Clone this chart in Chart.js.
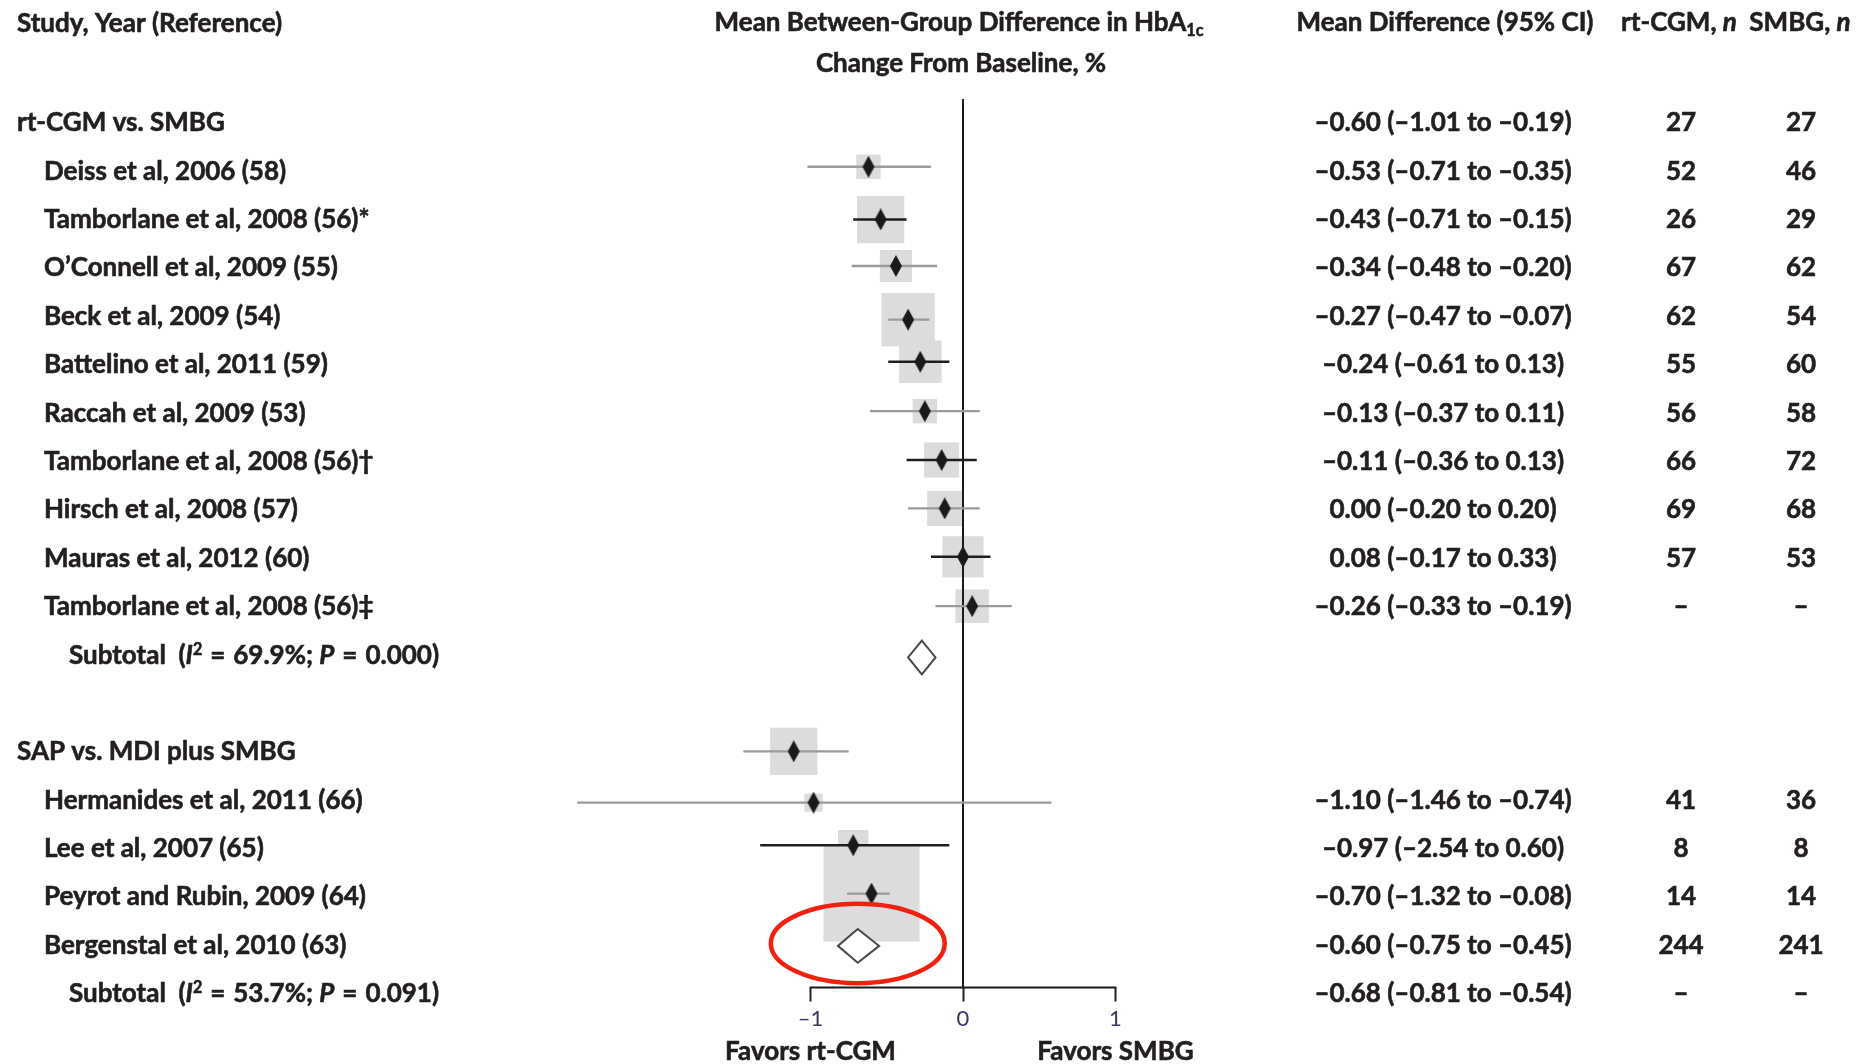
<!DOCTYPE html>
<html>
<head>
<meta charset="utf-8">
<script src="https://cdn.jsdelivr.net/npm/chart.js@4.4.1/dist/chart.umd.min.js"></script>
<style>
  html, body { margin: 0; padding: 0; background: #fff; }
  #wrap { width: 1869px; height: 1064px; }
</style>
</head>
<body>
<div id="wrap"><canvas id="forest" width="1869" height="1064"></canvas></div>
<script>
// ---- table rows (row 12 is the empty gap between the two groups) ----
var rowKind = ['group', 'study', 'study', 'study', 'study', 'study', 'study', 'study', 'study', 'study', 'study', 'subtotal',
               '', 'group', 'study', 'study', 'study', 'study', 'subtotal'];
var studyLabels = [
    'rt-CGM vs. SMBG',
    'Deiss et al, 2006 (58)',
    'Tamborlane et al, 2008 (56)*',
    'O\u2019Connell et al, 2009 (55)',
    'Beck et al, 2009 (54)',
    'Battelino et al, 2011 (59)',
    'Raccah et al, 2009 (53)',
    'Tamborlane et al, 2008 (56)\u2020',
    'Hirsch et al, 2008 (57)',
    'Mauras et al, 2012 (60)',
    'Tamborlane et al, 2008 (56)\u2021',
    'Subtotal',
    '',
    'SAP vs. MDI plus SMBG',
    'Hermanides et al, 2011 (66)',
    'Lee et al, 2007 (65)',
    'Peyrot and Rubin, 2009 (64)',
    'Bergenstal et al, 2010 (63)',
    'Subtotal'
];
var subtotalI2 = ['69.9%', '53.7%'];
var subtotalP = ['0.000', '0.091'];

var effectText = [
    '\u20130.60 (\u20131.01 to \u20130.19)',
    '\u20130.53 (\u20130.71 to \u20130.35)',
    '\u20130.43 (\u20130.71 to \u20130.15)',
    '\u20130.34 (\u20130.48 to \u20130.20)',
    '\u20130.27 (\u20130.47 to \u20130.07)',
    '\u20130.24 (\u20130.61 to 0.13)',
    '\u20130.13 (\u20130.37 to 0.11)',
    '\u20130.11 (\u20130.36 to 0.13)',
    '0.00 (\u20130.20 to 0.20)',
    '0.08 (\u20130.17 to 0.33)',
    '\u20130.26 (\u20130.33 to \u20130.19)',
    '', '', '',
    '\u20131.10 (\u20131.46 to \u20130.74)',
    '\u20130.97 (\u20132.54 to 0.60)',
    '\u20130.70 (\u20131.32 to \u20130.08)',
    '\u20130.60 (\u20130.75 to \u20130.45)',
    '\u20130.68 (\u20130.81 to \u20130.54)'
];
var nCgm  = ['27', '52', '26', '67', '62', '55', '56', '66', '69', '57', '\u2013', '', '', '', '41', '8', '14', '244', '\u2013'];
var nSmbg = ['27', '46', '29', '62', '54', '60', '58', '72', '68', '53', '\u2013', '', '', '', '36', '8', '14', '241', '\u2013'];

// ---- plotted marks, as they sit in the figure ----
var markRows   = [0.9, 1.99, 2.95, 4.06, 4.93, 5.95, 6.96, 7.96, 8.96, 9.98, 12.98, 14.04, 14.92, 15.92];
var markEst    = [-0.62, -0.54, -0.44, -0.36, -0.28, -0.25, -0.14, -0.12, 0.00, 0.06, -1.11, -0.98, -0.72, -0.60];
var markLow    = [-1.02, -0.72, -0.73, -0.49, -0.49, -0.61, -0.37, -0.36, -0.21, -0.18, -1.44, -2.53, -1.33, -0.76];
var markHigh   = [-0.21, -0.37, -0.17, -0.22, -0.09, 0.11, 0.09, 0.11, 0.18, 0.32, -0.75, 0.58, -0.09, -0.48];
var markWeight = [0.16, 0.31, 0.21, 0.35, 0.28, 0.16, 0.23, 0.23, 0.27, 0.22, 0.31, 0.12, 0.20, 0.63];

var subRows = [11.04, 17.0];
var subEst  = [-0.27, -0.69];
var subLow  = [-0.36, -0.82];
var subHigh = [-0.18, -0.55];

var xTicks = [-1, 0, 1];

// ---- look ----
var FAMILY = 'Lato';
var SIZE = 26;
var SQ = 1.0;
var INK = '#231f20';
var ciColors = ['#9b9b9b', '#1e1e1e', '#9b9b9b', '#9b9b9b', '#1e1e1e', '#9b9b9b', '#1e1e1e',
                '#9b9b9b', '#1e1e1e', '#9b9b9b', '#9b9b9b', '#9b9b9b', '#1e1e1e', '#9b9b9b'];

function setFont(ctx, size, italic) {
    ctx.font = (italic ? 'italic ' : '') + '700 ' + size + 'px ' + FAMILY;
}

function runsWidth(ctx, runs) {
    var w = 0;
    runs.forEach(function (r) {
        setFont(ctx, r.small ? SIZE * 0.62 : SIZE, r.italic);
        w += ctx.measureText(r.t).width * SQ;
    });
    return w;
}

function drawRuns(ctx, runs, x, y, align) {
    var w = runsWidth(ctx, runs);
    var cx = align === 'center' ? x - w / 2 : x;
    ctx.textAlign = 'left';
    ctx.textBaseline = 'alphabetic';
    ctx.fillStyle = INK;
    ctx.strokeStyle = INK;
    ctx.lineWidth = 0.6;
    runs.forEach(function (r) {
        setFont(ctx, r.small ? SIZE * 0.62 : SIZE, r.italic);
        var dy = r.sup ? -9 : (r.sub ? 5 : 0);
        ctx.save();
        ctx.translate(cx, y + dy);
        ctx.scale(SQ, 1);
        ctx.fillText(r.t, 0, 0);
        ctx.strokeText(r.t, 0, 0);
        ctx.restore();
        cx += ctx.measureText(r.t).width * SQ;
    });
}

function txt(ctx, s, x, y, align) {
    drawRuns(ctx, [{ t: s }], x, y, align);
}

// small tall diamond used for each study estimate
var pointImg = document.createElement('canvas');
pointImg.width = 14;
pointImg.height = 22;
(function () {
    var c = pointImg.getContext('2d');
    c.fillStyle = '#1a1a1a';
    c.beginPath();
    c.moveTo(7, 0);
    c.lineTo(13, 11);
    c.lineTo(7, 22);
    c.lineTo(1, 11);
    c.closePath();
    c.fill();
})();

var forestPlugin = {
    id: 'forest',
    beforeDatasetsDraw: function (chart) {
        var ctx = chart.ctx, xs = chart.scales.x, ys = chart.scales.y, area = chart.chartArea;
        ctx.save();
        // weight boxes
        ctx.fillStyle = '#dcdcde';
        markRows.forEach(function (r, i) {
            var x0 = xs.getPixelForValue(markEst[i] - markWeight[i] / 2);
            var x1 = xs.getPixelForValue(markEst[i] + markWeight[i] / 2);
            var side = x1 - x0;
            var yc = ys.getPixelForValue(r);
            ctx.fillRect(x0, yc - side / 2, side, side);
        });
        // line of no effect
        var z = xs.getPixelForValue(0);
        ctx.strokeStyle = '#1a1a1a';
        ctx.lineWidth = 2;
        ctx.beginPath();
        ctx.moveTo(z, area.top);
        ctx.lineTo(z, area.bottom);
        ctx.stroke();
        // axis line between -1 and 1
        ctx.beginPath();
        ctx.moveTo(xs.getPixelForValue(xTicks[0]) - 1, area.bottom);
        ctx.lineTo(xs.getPixelForValue(xTicks[xTicks.length - 1]) + 1, area.bottom);
        ctx.stroke();
        ctx.restore();
    },
    afterDatasetsDraw: function (chart) {
        var ctx = chart.ctx, xs = chart.scales.x, ys = chart.scales.y;
        var h = ys.getPixelForValue(0.35) - ys.getPixelForValue(0);
        ctx.save();
        ctx.fillStyle = '#ffffff';
        ctx.strokeStyle = '#4a4a4a';
        ctx.lineWidth = 2;
        subRows.forEach(function (r, i) {
            var yc = ys.getPixelForValue(r);
            var xm = xs.getPixelForValue(subEst[i]);
            ctx.beginPath();
            ctx.moveTo(xs.getPixelForValue(subLow[i]), yc);
            ctx.lineTo(xm, yc - h);
            ctx.lineTo(xs.getPixelForValue(subHigh[i]), yc);
            ctx.lineTo(xm, yc + h);
            ctx.closePath();
            ctx.fill();
            ctx.stroke();
        });
        ctx.restore();
    },
    afterDraw: function (chart) {
        var ctx = chart.ctx, xs = chart.scales.x, ys = chart.scales.y;
        ctx.save();
        // column headers
        txt(ctx, 'Study, Year (Reference)', 17, 32, 'left');
        drawRuns(ctx, [{ t: 'Mean Between-Group Difference in HbA' }, { t: '1c', small: true, sub: true }], 959, 31, 'center');
        txt(ctx, 'Change From Baseline, %', 961, 72, 'center');
        txt(ctx, 'Mean Difference (95% CI)', 1445, 31, 'center');
        drawRuns(ctx, [{ t: 'rt-CGM, ' }, { t: 'n', italic: true }], 1679, 31, 'center');
        drawRuns(ctx, [{ t: 'SMBG, ' }, { t: 'n', italic: true }], 1800, 31, 'center');

        // table body
        var s = 0;
        var eq = '\u200a= \u200a';
        studyLabels.forEach(function (label, r) {
            var y = ys.getPixelForValue(r) + 8;
            var kind = rowKind[r];
            if (kind === 'group') {
                txt(ctx, label, 17, y, 'left');
            } else if (kind === 'study') {
                txt(ctx, label, 44, y, 'left');
            } else if (kind === 'subtotal') {
                drawRuns(ctx, [
                    { t: label + '  (' }, { t: 'I', italic: true }, { t: '2', small: true, sup: true },
                    { t: ' ' + eq + subtotalI2[s] + '; ' }, { t: 'P', italic: true }, { t: ' ' + eq + subtotalP[s] + ')' }
                ], 69, y, 'left');
                s++;
            }
            if (effectText[r]) txt(ctx, effectText[r], 1443, y, 'center');
            if (nCgm[r]) txt(ctx, nCgm[r], 1681, y, 'center');
            if (nSmbg[r]) txt(ctx, nSmbg[r], 1801, y, 'center');
        });

        // axis captions
        txt(ctx, 'Favors rt-CGM', xs.getPixelForValue(-1), 1060, 'center');
        txt(ctx, 'Favors SMBG', xs.getPixelForValue(1), 1060, 'center');

        // red highlight round the second subtotal diamond
        var cx = xs.getPixelForValue(subEst[1]);
        var cy = ys.getPixelForValue(subRows[1] - 0.05);
        var rx = xs.getPixelForValue(subEst[1] + 0.57) - cx;
        var ry = ys.getPixelForValue(subRows[1] + 0.82) - ys.getPixelForValue(subRows[1]);
        ctx.strokeStyle = '#f2200f';
        ctx.lineWidth = 4.5;
        ctx.beginPath();
        ctx.ellipse(cx, cy, rx, ry, 0, 0, Math.PI * 2);
        ctx.stroke();
        ctx.restore();
    }
};

var datasets = [{
    label: 'estimate',
    data: markRows.map(function (r, i) { return { x: markEst[i], y: r }; }),
    pointStyle: pointImg,
    pointRadius: 8,
    order: 0
}];
markRows.forEach(function (r, i) {
    datasets.push({
        label: 'ci' + i,
        data: [{ x: markLow[i], y: r }, { x: markHigh[i], y: r }],
        showLine: true,
        borderColor: ciColors[i],
        borderWidth: 2.4,
        pointRadius: 0,
        order: 1
    });
});

var ctx = document.getElementById('forest').getContext('2d');
window.forestChart = new Chart(ctx, {
    type: 'scatter',
    data: { datasets: datasets },
    plugins: [forestPlugin],
    options: {
        responsive: false,
        animation: false,
        devicePixelRatio: 1,
        layout: { padding: { left: 505.5, right: 677.25, top: 99, bottom: 36.5 } },
        plugins: { legend: { display: false }, tooltip: { enabled: false } },
        scales: {
            x: {
                type: 'linear',
                min: -3,
                max: 1.5,
                afterBuildTicks: function (scale) {
                    scale.ticks = xTicks.map(function (v) { return { value: v }; });
                },
                afterFit: function (scale) { scale.height = 40; },
                ticks: {
                    padding: 4,
                    color: '#3b3660',
                    font: { family: FAMILY, size: 22, weight: '400' },
                    callback: function (v) { return v < 0 ? '\u2013' + Math.abs(v) : String(v); }
                },
                grid: {
                    drawOnChartArea: false,
                    drawTicks: true,
                    tickLength: 14,
                    tickWidth: 2,
                    tickColor: '#222'
                },
                border: { display: false }
            },
            y: {
                type: 'linear',
                display: false,
                reverse: true,
                min: -0.5,
                max: 17.86
            }
        }
    }
});
</script>
</body>
</html>
